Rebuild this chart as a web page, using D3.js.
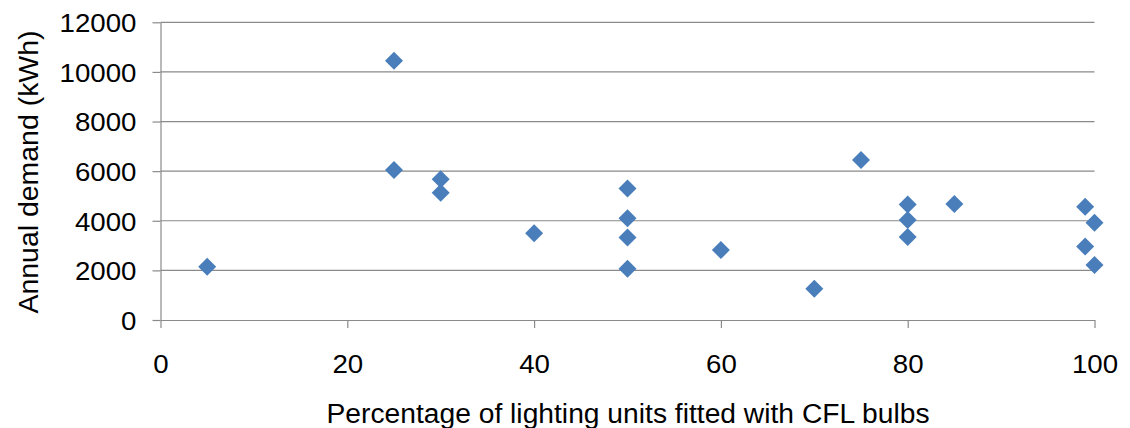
<!DOCTYPE html>
<html>
<head>
<meta charset="utf-8">
<script src="https://cdn.jsdelivr.net/npm/d3@7"></script>
<style>
  html, body { margin: 0; padding: 0; background: #fff; }
  svg { display: block; font-family: "Liberation Sans", Arial, sans-serif; }
</style>
</head>
<body>
<svg id="chart" width="1130" height="428"></svg>
<script>
// Share of lighting units fitted with CFL bulbs (%) per household
const cflShare = [5, 25, 25, 30, 30, 40, 50, 50, 50, 50, 60, 70, 75, 80, 80, 80, 85, 99, 100, 99, 100];
// Annual electricity demand (kWh) per household
const annualDemand = [2150, 10450, 6050, 5670, 5130, 3500, 5300, 4100, 3330, 2070, 2820, 1260, 6450, 4660, 4030, 3350, 4680, 4570, 3920, 2960, 2220];

const xTicks = [0, 20, 40, 60, 80, 100];
const yTicks = [0, 2000, 4000, 6000, 8000, 10000, 12000];

const xTitle = "Percentage of lighting units fitted with CFL bulbs";
const yTitle = "Annual demand (kWh)";

const svg = d3.select("#chart");
const plot = { left: 160.5, right: 1094.5, top: 22.3, bottom: 320 };

const x = d3.scaleLinear().domain([0, 100]).range([plot.left, plot.right]);
const y = d3.scaleLinear().domain([0, 12000]).range([plot.bottom, plot.top]);

const gridColor = "#8a8a8a";
const fontFamily = "'Liberation Sans', Arial, sans-serif";
const tickFont = 26;
const digitWidth = 15.4;

// horizontal gridlines
svg.append("g")
  .selectAll("line")
  .data(yTicks.filter(d => d > 0))
  .join("line")
  .attr("x1", plot.left).attr("x2", plot.right)
  .attr("y1", d => y(d)).attr("y2", d => y(d))
  .attr("stroke", gridColor).attr("stroke-width", 1.2);

// y axis with outward tick marks
const yAxis = svg.append("g")
  .attr("transform", `translate(${plot.left},0)`)
  .call(d3.axisLeft(y).tickValues(yTicks).tickSize(8).tickPadding(16).tickSizeOuter(0).tickFormat(d3.format("d")));
yAxis.select(".domain").attr("stroke", gridColor).attr("stroke-width", 1.2);
yAxis.selectAll(".tick line").attr("stroke", gridColor).attr("stroke-width", 1.2);
yAxis.selectAll(".tick text")
  .attr("font-size", tickFont).attr("fill", "#000").attr("font-family", fontFamily)
  .attr("dy", "0.36em")
  .attr("textLength", d => String(d).length * digitWidth)
  .attr("lengthAdjust", "spacingAndGlyphs");

// x axis
const xAxis = svg.append("g")
  .attr("transform", `translate(0,${plot.bottom})`)
  .call(d3.axisBottom(x).tickValues(xTicks).tickSize(8).tickPadding(27).tickSizeOuter(0).tickFormat(d3.format("d")));
xAxis.select(".domain").attr("stroke", gridColor).attr("stroke-width", 1.2);
xAxis.selectAll(".tick line").attr("stroke", gridColor).attr("stroke-width", 1.2);
xAxis.selectAll(".tick text")
  .attr("font-size", tickFont).attr("fill", "#000").attr("font-family", fontFamily)
  .attr("textLength", d => String(d).length * digitWidth)
  .attr("lengthAdjust", "spacingAndGlyphs");

// axis titles
svg.append("text")
  .attr("x", 628).attr("y", 422.5)
  .attr("text-anchor", "middle")
  .attr("font-size", 27)
  .attr("textLength", 603).attr("lengthAdjust", "spacingAndGlyphs")
  .text(xTitle);

svg.append("text")
  .attr("transform", `translate(38,172) rotate(-90)`)
  .attr("text-anchor", "middle")
  .attr("font-size", 27)
  .attr("textLength", 283).attr("lengthAdjust", "spacingAndGlyphs")
  .text(yTitle);

// diamond markers
const diamond = d3.symbol().type(d3.symbolSquare).size(162);
svg.append("g")
  .selectAll("path")
  .data(cflShare.map((v, i) => [v, annualDemand[i]]))
  .join("path")
  .attr("d", diamond)
  .attr("transform", d => `translate(${x(d[0])},${y(d[1])}) rotate(45)`)
  .attr("fill", "#4a7ebb");
</script>
</body>
</html>
